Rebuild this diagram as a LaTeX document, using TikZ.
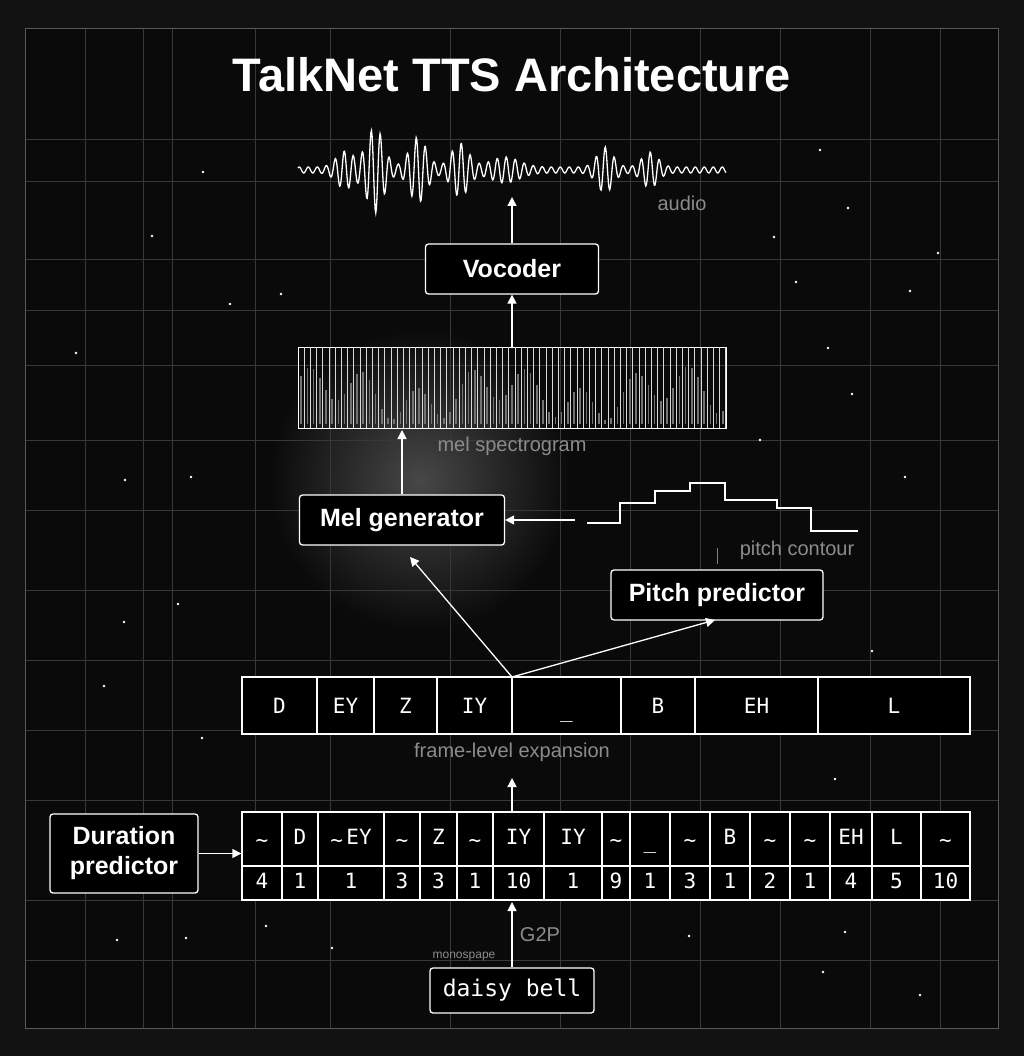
\documentclass[tikz,border=0pt]{standalone}
\usepackage{fontspec}
\setmainfont{Liberation Sans}
\setsansfont{Liberation Sans}
\setmonofont{DejaVu Sans Mono}
\usetikzlibrary{arrows.meta}
\newcommand{\tl}{\raisebox{-0.3ex}{\textasciitilde}}
\newcommand{\ul}{\raisebox{-0.4ex}{\_}}
\begin{document}
\begin{tikzpicture}[x=1pt,y=-1pt,
  declare function={g(\u,\c,\w)=exp(-(min(abs((\u-\c)/\w),4))^2);},
  box/.style={draw=white,line width=1.3pt,rounded corners=3pt,fill=black,text=white,font=\fontsize{25}{28}\selectfont\bfseries,align=center},
  arr/.style={white,line width=1.3pt,-{Triangle[length=9pt,width=9pt]}},
  lbl/.style={text=black!45,font=\fontsize{20}{24}\selectfont},
  cell/.style={text=white,font=\ttfamily\fontsize{21}{24}\selectfont,anchor=base,inner sep=0},
  grid/.style={draw=black!78,line width=0.6pt}]
\useasboundingbox (0,0) rectangle (1024,1056);
\fill[black!93] (0,0) rectangle (1024,1056);
\fill[black!96] (25,28) rectangle (998,1028);
\shade[inner color=black!72,outer color=black!96] (420,480) circle (150);
% grid
\foreach \x in {85,143,172,255,330,450,560,630,700,780,870,940}
  \draw[grid] (\x,28) -- (\x,1028);
\foreach \y in {139,181,259,310,365,440,510,590,660,730,800,900,960}
  \draw[grid] (25,\y) -- (998,\y);
\draw[draw=black!65,line width=0.8pt] (25,28) rectangle (998,1028);
% stars
\foreach \p in {(203,172),(152,236),(230,304),(76,353),(281,294),(125,480),(191,477),(178,604),(124,622),(104,686),(202,738),(148,873),(117,940),(186,938),(266,926),(332,948),(820,150),(848,208),(774,237),(938,253),(796,282),(910,291),(828,348),(852,394),(905,477),(872,651),(835,779),(800,846),(689,936),(845,932),(823,972),(920,995),(940,898),(760,440)}
  \fill[white] \p circle (1.4);
% title
\node[text=white,font=\fontsize{47}{50}\selectfont\bfseries] (title) at (512,75) {TalkNet TTS Architecture};
% waveform
\draw[white,line width=1.3pt] plot[domain=298:726,samples=700] (\x,{170 - (40*g(\x,375,12)+30*g(\x,418,12)+16*g(\x,345,12)+24*g(\x,460,12)+10*g(\x,505,20)+20*g(\x,605,11)+15*g(\x,650,11)+3)*sin(40*mod(\x,9))});
\node[lbl] (audio) at (682,203) {audio};
% vocoder
\node[box,minimum width=173pt,minimum height=50pt] (voc) at (512,269) {Vocoder};
\coordinate (wv) at (512,197);
\draw[arr] (voc.north) -- (wv);
% spectrogram
\node[draw=white,line width=1pt,minimum width=428pt,minimum height=81pt,inner sep=0] (spec) at (512,387.5) {};
\foreach \i in {1,...,69}{
  \draw[black!55,line width=1.6pt] ({298+\i*6.2-3.1},424) -- ({298+\i*6.2-3.1},{424-(30+18*sin(\i*41)+12*sin(\i*13+20))});
  \draw[black!15,line width=0.7pt] ({298+\i*6.2},347) -- ({298+\i*6.2},428);
}
\draw[arr] (spec.north) -- (voc.south);
\node[lbl] (mellbl) at (512,446) {mel spectrogram};
% mel generator
\node[box,minimum width=205pt,minimum height=50pt] (mel) at (402,520) {Mel generator};
\draw[arr] (mel.north) -- (402,430);
% pitch contour
\draw[white,line width=1.3pt] (587,523) coordinate (pc) -- (620,523) -- (620,503) -- (655,503) -- (655,491) -- (690,491) -- (690,483) -- (725,483) -- (725,500) -- (777,500) -- (777,508) -- (811,508) -- (811,531) -- (858,531);
\coordinate (pcin) at (575,520);
\draw[arr] (pcin) -- (mel.east);
\node[lbl] (pclbl) at (797,550) {pitch contour};
\draw[black!50,line width=0.8pt] (717,548) -- (717,564);
% pitch predictor
\node[box,minimum width=212pt,minimum height=50pt] (pitch) at (717,595) {Pitch predictor};
% frame-level row
\node[draw=white,line width=1.3pt,fill=black,minimum width=728pt,minimum height=57pt,inner sep=0] (frame) at (606,705.5) {};
\foreach \a/\b/\t in {242/317/D,317/374/EY,374/437/Z,437/512/IY,512/621/\ul,621/695/B,695/818/EH,818/970/L}{
  \draw[white,line width=1.3pt] (\b,677) -- (\b,734);
  \node[cell] at ({(\a+\b)/2},713) {\t};
}
\coordinate (fork) at (512,677);
\draw[arr] (fork) -- (410,557);
\draw[arr] (fork) -- (715,620);
\node[lbl] (fle) at (512,752) {frame-level expansion};
% token table
\node[draw=white,line width=1.3pt,fill=black,minimum width=728pt,minimum height=88pt,inner sep=0] (tok) at (606,856) {};
\draw[white,line width=1.3pt] (242,866) -- (970,866);
\foreach \a/\b/\t/\n in {242/282/\tl/4,282/318/D/1,318/384/\tl\,EY/1,384/420/\tl/3,420/457/Z/3,457/493/\tl/1,493/544/IY/10,544/602/IY/1,602/630/\tl/9,630/670/\ul/1,670/710/\tl/3,710/750/B/1,750/790/\tl/2,790/830/\tl/1,830/872/EH/4,872/921/L/5,921/970/\tl/10}{
  \draw[white,line width=1.3pt] (\b,812) -- (\b,900);
  \node[cell] at ({(\a+\b)/2},844) {\t};
  \node[cell] at ({(\a+\b)/2},888) {\n};
}
\draw[arr] (512,812) -- (512,778);
% duration predictor
\node[box,minimum width=148pt,minimum height=79pt,font=\fontsize{25}{30}\selectfont\bfseries] (dur) at (124,853.5) {Duration\\predictor};
\draw[arr] (dur.east) -- (tok.west |- dur.east);
% daisy bell
\node[box,minimum width=164pt,minimum height=45pt,font=\ttfamily\fontsize{23}{26}\selectfont] (daisy) at (512,990.5) {daisy bell};
\draw[arr] (daisy.north) -- (512,902);
\node[lbl] (g2p) at (540,935) {G2P};
\node[lbl,font=\fontsize{12}{14}\selectfont] (mono) at (464,957) {monospape};
\end{tikzpicture}
\end{document}
